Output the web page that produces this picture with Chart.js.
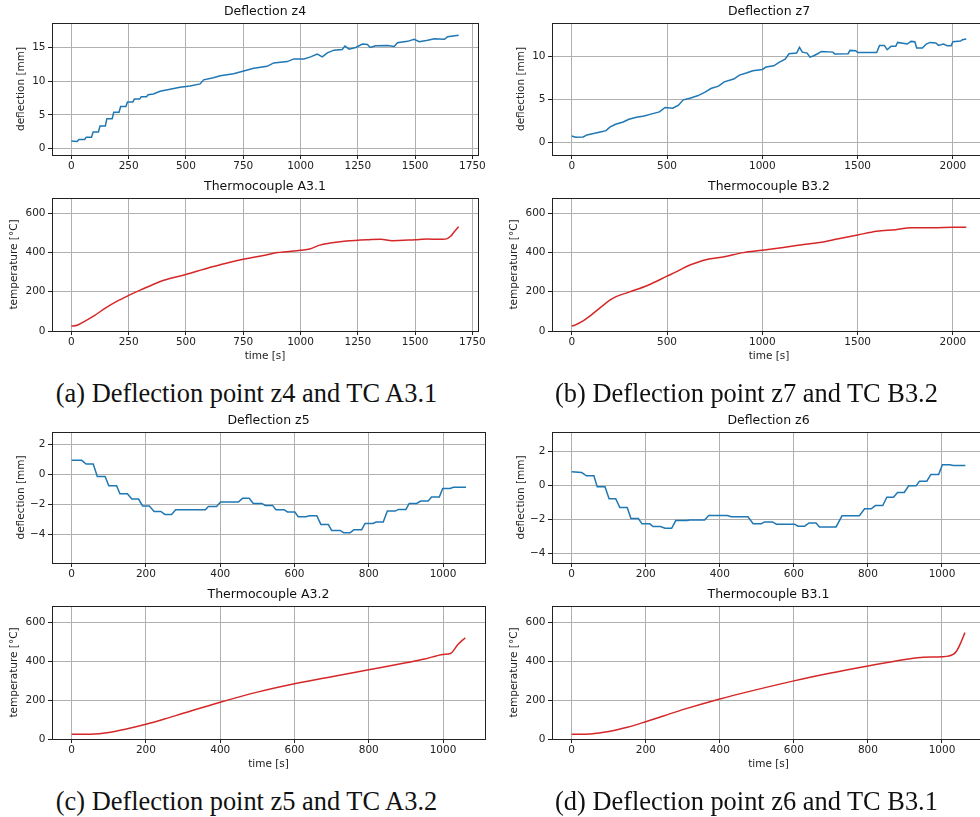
<!DOCTYPE html>
<html>
<head>
<meta charset="utf-8">
<script src="https://cdn.jsdelivr.net/npm/chart.js@4.4.0/dist/chart.umd.min.js"></script>
<style>
html, body { margin: 0; padding: 0; background: #fff; width: 980px; height: 817px; overflow: hidden; position: relative; }
.box { position: absolute; }
.cap { position: absolute; font-family: "Liberation Serif", serif; font-size: 26.4px; line-height: 26px; color: #111; white-space: nowrap; transform: translateX(-50%); }
#box_z4 { left: 0; top: 5px; width: 498px; height: 170px; }
#box_a31 { left: 0; top: 180px; width: 498px; height: 185px; }
#box_z7 { left: 500px; top: 5px; width: 506px; height: 170px; }
#box_b32 { left: 500px; top: 180px; width: 506px; height: 185px; }
#box_z5 { left: 0; top: 414px; width: 505px; height: 169px; }
#box_a32 { left: 0; top: 588px; width: 505px; height: 185px; }
#box_z6 { left: 500px; top: 414px; width: 505px; height: 169px; }
#box_b31 { left: 500px; top: 588px; width: 505px; height: 185px; }
</style>
</head>
<body>
<div class="box" id="box_z4"><canvas id="c_z4"></canvas></div>
<div class="box" id="box_a31"><canvas id="c_a31"></canvas></div>
<div class="box" id="box_z7"><canvas id="c_z7"></canvas></div>
<div class="box" id="box_b32"><canvas id="c_b32"></canvas></div>
<div class="box" id="box_z5"><canvas id="c_z5"></canvas></div>
<div class="box" id="box_a32"><canvas id="c_a32"></canvas></div>
<div class="box" id="box_z6"><canvas id="c_z6"></canvas></div>
<div class="box" id="box_b31"><canvas id="c_b31"></canvas></div>
<div class="cap" style="left:246.5px; top:380px;">(a) Deflection point z4 and TC A3.1</div>
<div class="cap" style="left:746.5px; top:380px;">(b) Deflection point z7 and TC B3.2</div>
<div class="cap" style="left:246.5px; top:788px;">(c) Deflection point z5 and TC A3.2</div>
<div class="cap" style="left:746.5px; top:788px;">(d) Deflection point z6 and TC B3.1</div>
<script>
// deflection z4 [mm]
const z4Time = [0, 25, 33, 58, 65, 88, 95, 118, 125, 148, 155, 178, 185, 208, 215, 238, 245, 268, 275, 298,
  305, 328, 335, 358, 387, 431, 474, 518, 562, 577, 620,
  650, 708, 752, 796, 854, 883, 942, 971, 1015, 1044, 1073, 1095, 1117, 1146, 1182, 1194, 1212, 1241, 1270, 1292,
  1304, 1328, 1380, 1409, 1423, 1467, 1496, 1518, 1555, 1584, 1628, 1642, 1690];
const z4Defl = [1.15, 1.05, 1.35, 1.35, 1.7, 1.7, 2.45, 2.45, 3.35, 3.35, 4.45, 4.45, 5.4, 5.4, 6.25, 6.25, 6.9, 6.9, 7.35, 7.35,
  7.7, 7.7, 8.0, 8.1, 8.5, 8.8, 9.1, 9.3, 9.6, 10.2, 10.5,
  10.8, 11.1, 11.5, 11.9, 12.2, 12.7, 12.9, 13.3, 13.3, 13.6, 14.0, 13.6, 14.2, 14.6, 14.7, 15.2, 14.75, 15.0, 15.5, 15.45,
  15.0, 15.25, 15.3, 15.15, 15.7, 15.9, 16.2, 15.85, 16.05, 16.3, 16.2, 16.6, 16.8];

// thermocouple A3.1 [°C]
const a31Time = [0, 25, 50, 100, 150, 200, 250, 300, 350, 400, 500, 600, 650, 750, 850, 900, 1000, 1040, 1080, 1130,
  1200, 1300, 1350, 1400, 1500, 1550, 1620, 1640, 1655, 1670, 1690];
const a31Temp = [25, 29, 44, 78, 118, 152, 181, 208, 233, 257, 288, 322, 337, 365, 387, 399, 411, 417, 436, 448,
  458, 465, 467, 460, 465, 468, 467, 470, 482, 504, 531];

// deflection z7 [mm]
const z7Time = [0, 20, 60, 80, 120, 150, 180, 200, 230, 270, 300, 340, 380, 420, 460, 490, 530, 560, 585, 620,
  660, 700, 730, 770, 800, 850, 880, 920, 950, 1000, 1020, 1060, 1090, 1120, 1140, 1180, 1195, 1210, 1235, 1250,
  1270, 1290, 1310, 1370, 1380, 1450, 1460, 1490, 1500, 1600, 1615, 1640, 1655, 1675, 1700, 1710, 1760, 1780, 1800, 1810,
  1840, 1860, 1880, 1910, 1925, 1950, 1970, 1990, 2000, 2040, 2050, 2070];
const z7Defl = [0.78, 0.62, 0.66, 0.9, 1.09, 1.25, 1.4, 1.8, 2.14, 2.41, 2.72, 2.96, 3.11, 3.35, 3.58, 4.09, 4.0, 4.36, 4.98, 5.17,
  5.45, 5.88, 6.3, 6.58, 7.08, 7.4, 7.86, 8.13, 8.37, 8.52, 8.8, 8.95, 9.38, 9.73, 10.35, 10.43, 11.09, 10.54, 10.43, 9.96,
  10.12, 10.35, 10.62, 10.54, 10.31, 10.35, 10.74, 10.7, 10.5, 10.5, 11.32, 11.32, 10.82, 11.21, 11.21, 11.67, 11.48, 11.79, 11.75, 11.01,
  11.01, 11.48, 11.67, 11.6, 11.32, 11.48, 11.28, 11.28, 11.75, 11.83, 11.98, 12.06];

// thermocouple B3.2 [°C]
const b32Time = [0, 20, 50, 100, 150, 200, 230, 300, 400, 500, 550, 600, 650, 720, 800, 900, 1000, 1100, 1200, 1300,
  1400, 1500, 1600, 1700, 1780, 1900, 2000, 2070];
const b32Temp = [25, 31, 46, 80, 119, 157, 174, 198, 233, 279, 302, 327, 346, 366, 378, 399, 411, 424, 438, 450,
  470, 489, 508, 516, 526, 526, 528, 528];

// deflection z5 [mm]
const z5Time = [0, 27, 39, 58, 69, 90, 100, 121, 130, 150, 162, 180, 191, 209, 222, 240, 251, 269, 280, 360,
  368, 390, 401, 449, 460, 478, 489, 512, 521, 541, 550, 572, 581, 601, 610, 631, 640, 660, 671, 691,
  700, 723, 732, 750, 760, 781, 790, 811, 820, 839, 850, 871, 880, 900, 909, 929, 940, 960, 969, 990,
  999, 1019, 1028, 1062];
const z5Defl = [0.91, 0.91, 0.67, 0.67, -0.16, -0.16, -0.78, -0.78, -1.31, -1.31, -1.67, -1.67, -2.13, -2.13, -2.49, -2.49, -2.69, -2.69, -2.38, -2.38,
  -2.16, -2.16, -1.87, -1.87, -1.62, -1.62, -1.96, -1.96, -2.09, -2.09, -2.38, -2.38, -2.53, -2.53, -2.84, -2.84, -2.78, -2.78, -3.36, -3.36,
  -3.76, -3.76, -3.91, -3.91, -3.71, -3.71, -3.29, -3.29, -3.2, -3.2, -2.47, -2.47, -2.36, -2.36, -1.96, -1.96, -1.8, -1.8, -1.53, -1.53,
  -0.96, -0.96, -0.89, -0.89];

// thermocouple A3.2 [°C]
const a32Time = [0, 50, 100, 150, 200, 250, 300, 400, 500, 600, 700, 800, 900, 950, 1000, 1020, 1040, 1060];
const a32Temp = [24, 25, 34, 53, 76, 103, 132, 189, 241, 284, 320, 356, 392, 411, 435, 440, 486, 521];

// deflection z6 [mm]
const z6Time = [0, 27, 40, 60, 69, 90, 101, 119, 130, 150, 160, 180, 190, 211, 220, 240, 252, 270, 281, 310,
  319, 359, 370, 420, 431, 476, 490, 512, 521, 542, 553, 602, 611, 629, 641, 660, 669, 714, 730, 777,
  791, 809, 820, 840, 851, 869, 880, 898, 910, 930, 939, 959, 970, 991, 1001, 1020, 1031, 1063];
const z6Defl = [0.8, 0.76, 0.57, 0.57, -0.08, -0.08, -0.78, -0.78, -1.29, -1.29, -1.94, -1.94, -2.25, -2.25, -2.41, -2.41, -2.51, -2.51, -2.06, -2.06,
  -2.02, -2.02, -1.76, -1.76, -1.84, -1.84, -2.24, -2.24, -2.14, -2.14, -2.27, -2.27, -2.39, -2.39, -2.2, -2.2, -2.43, -2.43, -1.78, -1.78,
  -1.37, -1.37, -1.18, -1.18, -0.69, -0.69, -0.41, -0.41, -0.02, -0.02, 0.25, 0.25, 0.65, 0.65, 1.22, 1.22, 1.18, 1.18];

// thermocouple B3.1 [°C]
const b31Time = [0, 50, 100, 150, 200, 250, 300, 400, 500, 600, 700, 800, 900, 950, 1000, 1030, 1040, 1050, 1062];
const b31Temp = [24, 26, 38, 60, 89, 120, 151, 206, 254, 299, 339, 375, 409, 421, 423, 435, 454, 492, 547];

// tick values
const ticksTimeA = [0, 250, 500, 750, 1000, 1250, 1500, 1750];
const ticksTimeB = [0, 500, 1000, 1500, 2000];
const ticksTimeCD = [0, 200, 400, 600, 800, 1000];
const ticksZ4 = [0, 5, 10, 15];
const ticksZ7 = [0, 5, 10];
const ticksZ5 = [-4, -2, 0, 2];
const ticksZ6 = [-4, -2, 0, 2];
const ticksTemp = [0, 200, 400, 600];

const FONT = "'DejaVu Sans', sans-serif";
const BLUE = '#1f77b4';
const RED = '#d62728';

// matplotlib style: minus sign, no thousands separator
function fmt(v) {
    return v < 0 ? '\u2212' + Math.abs(v) : String(v);
}

// black box round the plot area
const frame = {
    id: 'frame',
    afterDraw(chart) {
        const a = chart.chartArea;
        const ctx = chart.ctx;
        ctx.save();
        ctx.strokeStyle = '#222';
        ctx.lineWidth = 1;
        ctx.strokeRect(Math.round(a.left) + 0.5, Math.round(a.top) + 0.5,
            Math.round(a.right - a.left), Math.round(a.bottom - a.top));
        ctx.restore();
    }
};

function makeChart(id, cfg) {
    const points = cfg.x.map((t, i) => ({ x: t, y: cfg.y[i] }));
    new Chart(document.getElementById(id), {
        type: 'line',
        data: {
            datasets: [{
                data: points,
                borderColor: cfg.color,
                borderWidth: 1.5,
                pointRadius: 0,
                fill: false,
                tension: cfg.smooth ? 0.4 : 0,
                cubicInterpolationMode: cfg.smooth ? 'monotone' : 'default'
            }]
        },
        options: {
            responsive: true,
            maintainAspectRatio: false,
            animation: false,
            events: [],
            layout: { padding: { right: 20 } },
            plugins: {
                legend: { display: false },
                tooltip: { enabled: false },
                title: {
                    display: true,
                    text: cfg.title,
                    fullSize: false,
                    color: '#111',
                    font: { family: FONT, size: 12.5, weight: 'normal', lineHeight: '13px' },
                    padding: { top: 0, bottom: 5 }
                }
            },
            scales: {
                x: {
                    type: 'linear',
                    bounds: 'data',
                    min: cfg.xRange[0],
                    max: cfg.xRange[1],
                    afterBuildTicks: s => { s.ticks = cfg.xTicks.map(v => ({ value: v })); },
                    afterFit: s => { s.height = cfg.xLabel ? 34 : 20; },
                    grid: { color: '#b0b0b0', lineWidth: 1, tickColor: '#222', tickLength: 4 },
                    border: { display: false },
                    ticks: { color: '#222', font: { family: FONT, size: 10.5 }, padding: 1, maxRotation: 0, autoSkip: false, callback: fmt },
                    title: {
                        display: !!cfg.xLabel,
                        text: cfg.xLabel || '',
                        color: '#222',
                        font: { family: FONT, size: 10.5 },
                        padding: { top: 0, bottom: 2 }
                    }
                },
                y: {
                    type: 'linear',
                    bounds: 'data',
                    min: cfg.yRange[0],
                    max: cfg.yRange[1],
                    afterBuildTicks: s => { s.ticks = cfg.yTicks.map(v => ({ value: v })); },
                    afterFit: s => { s.width = 52; },
                    grid: { color: '#b0b0b0', lineWidth: 1, tickColor: '#222', tickLength: 4 },
                    border: { display: false },
                    ticks: { color: '#222', font: { family: FONT, size: 10.5 }, padding: 2.5, autoSkip: false, callback: fmt },
                    title: {
                        display: true,
                        text: cfg.yLabel,
                        color: '#222',
                        font: { family: FONT, size: 10.5 },
                        padding: { top: cfg.yLabelPad, bottom: 0 }
                    }
                }
            }
        },
        plugins: [frame]
    });
}

function drawAll() {
    makeChart('c_z4', {
        title: 'Deflection z4', x: z4Time, y: z4Defl, color: BLUE,
        xRange: [-84.5, 1774.5], xTicks: ticksTimeA,
        yRange: [-0.94, 18.62], yTicks: ticksZ4, yLabel: 'deflection [mm]', yLabelPad: 14.7
    });
    makeChart('c_a31', {
        title: 'Thermocouple A3.1', x: a31Time, y: a31Temp, color: RED, smooth: true,
        xRange: [-84.5, 1774.5], xTicks: ticksTimeA, xLabel: 'time [s]',
        yRange: [0, 677], yTicks: ticksTemp, yLabel: 'temperature [°C]', yLabelPad: 8
    });
    makeChart('c_z7', {
        title: 'Deflection z7', x: z7Time, y: z7Defl, color: BLUE,
        xRange: [-103.5, 2173.5], xTicks: ticksTimeB,
        yRange: [-1.44, 13.93], yTicks: ticksZ7, yLabel: 'deflection [mm]', yLabelPad: 14.7
    });
    makeChart('c_b32', {
        title: 'Thermocouple B3.2', x: b32Time, y: b32Temp, color: RED, smooth: true,
        xRange: [-103.5, 2173.5], xTicks: ticksTimeB, xLabel: 'time [s]',
        yRange: [0, 677], yTicks: ticksTemp, yLabel: 'temperature [°C]', yLabelPad: 8
    });
    makeChart('c_z5', {
        title: 'Deflection z5', x: z5Time, y: z5Defl, color: BLUE,
        xRange: [-53, 1113], xTicks: ticksTimeCD,
        yRange: [-5.93, 2.8], yTicks: ticksZ5, yLabel: 'deflection [mm]', yLabelPad: 14.7
    });
    makeChart('c_a32', {
        title: 'Thermocouple A3.2', x: a32Time, y: a32Temp, color: RED, smooth: true,
        xRange: [-53, 1113], xTicks: ticksTimeCD, xLabel: 'time [s]',
        yRange: [0, 684], yTicks: ticksTemp, yLabel: 'temperature [°C]', yLabelPad: 8
    });
    makeChart('c_z6', {
        title: 'Deflection z6', x: z6Time, y: z6Defl, color: BLUE,
        xRange: [-53.15, 1116.15], xTicks: ticksTimeCD,
        yRange: [-4.55, 3.14], yTicks: ticksZ6, yLabel: 'deflection [mm]', yLabelPad: 14.7
    });
    makeChart('c_b31', {
        title: 'Thermocouple B3.1', x: b31Time, y: b31Temp, color: RED, smooth: true,
        xRange: [-53.15, 1116.15], xTicks: ticksTimeCD, xLabel: 'time [s]',
        yRange: [0, 684], yTicks: ticksTemp, yLabel: 'temperature [°C]', yLabelPad: 8
    });
}

drawAll();
</script>
</body>
</html>
